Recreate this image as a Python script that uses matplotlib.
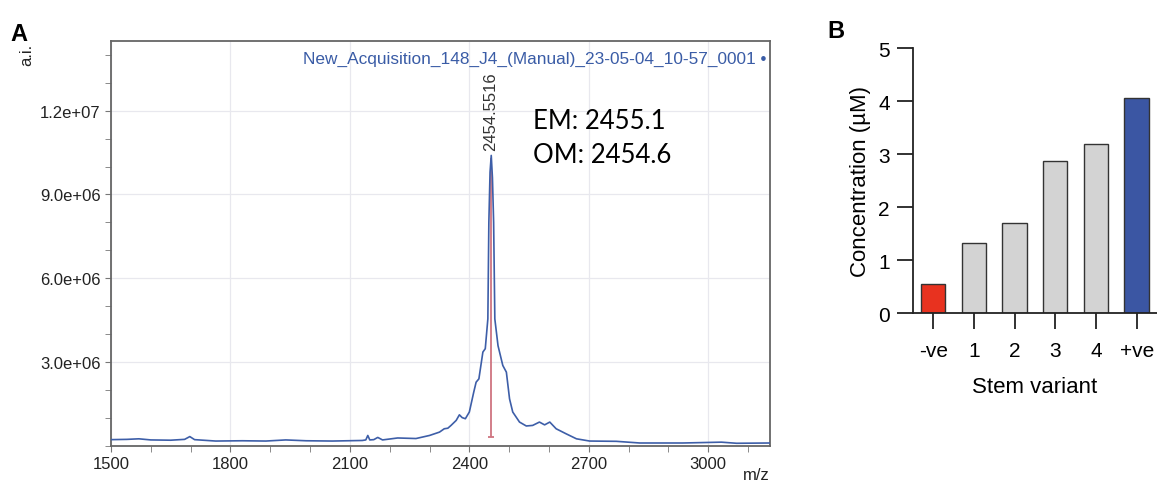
import matplotlib
matplotlib.use("Agg")
import matplotlib.pyplot as plt
from matplotlib.ticker import MultipleLocator, FuncFormatter

plt.rcParams['font.family'] = ['Liberation Sans', 'DejaVu Sans']

# --- panel A: mass spectrum ---
mz = [1500, 1540, 1570, 1600, 1650, 1685, 1698, 1710, 1763, 1830, 1889, 1939,
      1990, 2056, 2131, 2140, 2145, 2150, 2160, 2170, 2182, 2220, 2266, 2300,
      2325, 2337, 2346, 2354, 2367, 2375, 2382, 2390, 2400, 2411, 2417, 2424,
      2434, 2440, 2446.5, 2449, 2452, 2455, 2458, 2461, 2464, 2472, 2484, 2493,
      2501, 2509, 2526, 2543, 2559, 2576, 2589, 2602, 2618, 2643, 2669, 2702,
      2769, 2828, 2936, 3033, 3071, 3155]
intensity_e6 = [0.21, 0.22, 0.24, 0.20, 0.19, 0.22, 0.32, 0.21, 0.16, 0.17, 0.16, 0.20,
                0.17, 0.16, 0.18, 0.20, 0.36, 0.20, 0.21, 0.29, 0.20, 0.27, 0.25, 0.36,
                0.48, 0.60, 0.62, 0.72, 0.90, 1.10, 1.00, 0.96, 1.20, 1.91, 2.27, 2.39,
                3.35, 3.47, 4.54, 8.0, 9.8, 10.4, 9.6, 8.0, 4.54, 3.58, 2.87, 2.63,
                1.67, 1.20, 0.84, 0.70, 0.72, 0.84, 0.74, 0.84, 0.60, 0.42, 0.24, 0.16,
                0.15, 0.09, 0.09, 0.12, 0.08, 0.09]
peak_mz = 2454.5516
peak_top_e6 = 10.3
peak_base_e6 = 0.32
acq_name = "New_Acquisition_148_J4_(Manual)_23-05-04_10-57_0001"

# --- panel B: concentrations ---
variants = ['-ve', '1', '2', '3', '4', '+ve']
conc = [0.56, 1.33, 1.70, 2.87, 3.19, 4.06]
bar_colors = ['#e8321f', '#d3d3d3', '#d3d3d3', '#d3d3d3', '#d3d3d3', '#3b56a3']

fig = plt.figure(figsize=(11.57, 4.89), dpi=100)

# ---------------- A ----------------
ax = fig.add_axes([0.0959, 0.0869, 0.5696, 0.8271])
intensity = [v * 1e6 for v in intensity_e6]
ax.plot(mz, intensity, color='#3d5ea8', lw=1.2, zorder=3)
ax.vlines(peak_mz, peak_base_e6 * 1e6, peak_top_e6 * 1e6, color='#cf7480', lw=1.3, zorder=2)
ax.hlines(peak_base_e6 * 1e6, peak_mz - 8, peak_mz + 8, color='#cf7480', lw=1.3, zorder=2)
ax.text(peak_mz, peak_top_e6 * 1e6 + 0.3e6, f"{peak_mz:.4f}", rotation=90,
        ha='center', va='bottom', fontsize=12, color='#333333')
ax.text(0.995, 0.975, acq_name + " \u2022", transform=ax.transAxes, ha='right', va='top',
        fontsize=12.4, color='#3a5ca6')
ax.text(2559, 1.105e7, "EM: 2455.1\nOM: 2454.6", fontsize=18.5, family=['Lato', 'DejaVu Sans'],
        ha='left', va='center', linespacing=1.45)

ax.set_xlim(1500, 3155)
ax.set_ylim(0, 1.45e7)
ax.xaxis.set_major_locator(MultipleLocator(300))
ax.xaxis.set_minor_locator(MultipleLocator(100))
ax.set_yticks([3e6, 6e6, 9e6, 1.2e7])
ax.yaxis.set_minor_locator(MultipleLocator(1e6))
ax.yaxis.set_major_formatter(FuncFormatter(lambda v, p: f"{v:.1e}"))
ax.grid(True, which='major', color='#e8e8ee', lw=0.9)
ax.set_axisbelow(True)
for s in ax.spines.values():
    s.set_color('#666666')
    s.set_linewidth(1.3)
ax.tick_params(which='both', direction='out', color='#777777', labelsize=12,
               labelcolor='#222222', length=4)
fig.text(0.0233, 0.887, "a.i.", rotation=90, ha='center', va='center', fontsize=12, color='#222222')
fig.text(0.665, 0.012, "m/z", ha='right', va='bottom', fontsize=12, color='#222222')
fig.text(0.009, 0.93, "A", fontsize=17, fontweight='bold', ha='left', va='center')

# ---------------- B ----------------
bx = fig.add_axes([0.789, 0.357, 0.211, 0.542])
bx.bar(range(len(variants)), conc, width=0.6, color=bar_colors, edgecolor='#333333', lw=1.0)
bx.set_xlim(-0.5, 5.5)
bx.set_ylim(0, 5)
bx.set_xticks(range(len(variants)))
bx.set_xticklabels(variants)
bx.set_yticks(range(6))
bx.spines['top'].set_visible(False)
bx.spines['right'].set_visible(False)
for s in ('left', 'bottom'):
    bx.spines[s].set_linewidth(1.3)
    bx.spines[s].set_color('#222222')
bx.tick_params(length=11.5, width=1.3, color='#222222', labelsize=15, pad=5)
bx.tick_params(axis='x', pad=8)
bx.set_ylabel("Concentration (\u00b5M)", fontsize=16, labelpad=5)
bx.set_xlabel("Stem variant", fontsize=16, labelpad=12)
fig.text(0.715, 0.935, "B", fontsize=17, fontweight='bold', ha='left', va='center')

fig.savefig("out.png", dpi=100)
